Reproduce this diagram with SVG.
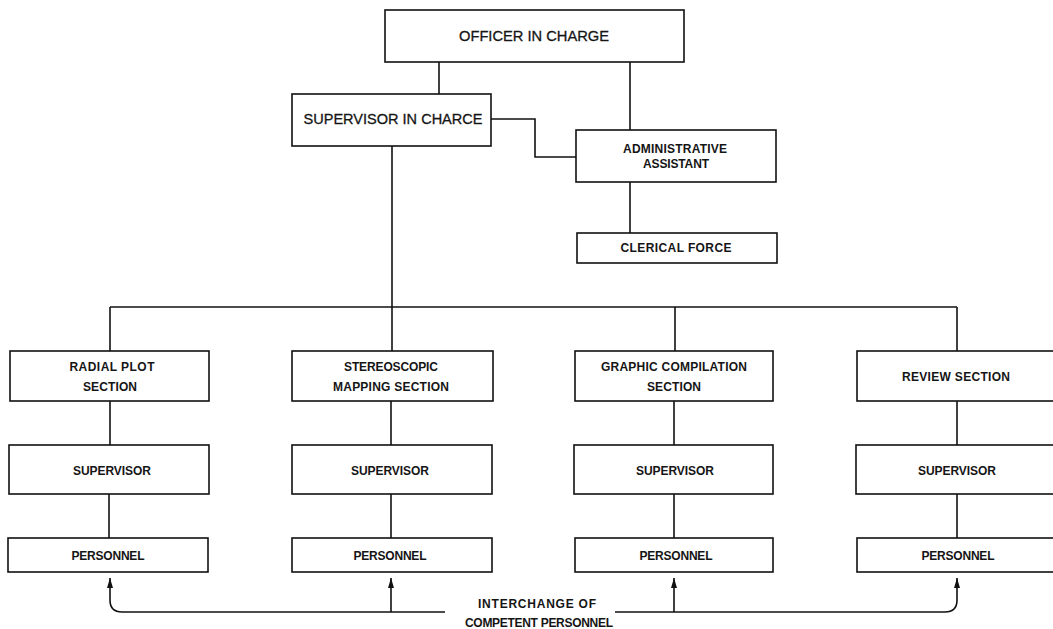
<svg xmlns="http://www.w3.org/2000/svg" width="1053" height="629" viewBox="0 0 1053 629">
<defs>
<style>
.box{fill:#fff;stroke:#111;stroke-width:1.6}
.ln{fill:none;stroke:#111;stroke-width:1.6}
.t{font-family:"Liberation Sans",Arial,sans-serif;font-size:12px;font-weight:bold;fill:#151515;text-anchor:middle}
.tl{font-family:"Liberation Sans",Arial,sans-serif;font-size:15px;font-weight:normal;fill:#151515;text-anchor:middle;stroke:#151515;stroke-width:0.3}
</style>
<marker id="ah" markerUnits="userSpaceOnUse" markerWidth="10" markerHeight="6" viewBox="0 0 10 6" refX="10" refY="3" orient="auto">
<path d="M0,0 L10,3 L0,6 Z" fill="#111"/>
</marker>
</defs>
<rect width="1053" height="629" fill="#fff"/>
<g id="connectors">
<path class="ln" d="M439,62 V94"/>
<path class="ln" d="M630,62 V130"/>
<path class="ln" d="M491,119 H535 V157 H576"/>
<path class="ln" d="M630,182 V233"/>
<path class="ln" d="M392,146 V351"/>
<path class="ln" d="M110,307 H957"/>
<path class="ln" d="M110,307 V351"/>
<path class="ln" d="M675,307 V351"/>
<path class="ln" d="M957,307 V351"/>
<path class="ln" d="M110,401 V445"/>
<path class="ln" d="M109,494 V538"/>
<path class="ln" d="M391,401 V445"/>
<path class="ln" d="M391,494 V538"/>
<path class="ln" d="M674,401 V445"/>
<path class="ln" d="M674,494 V538"/>
<path class="ln" d="M957,401 V445"/>
<path class="ln" d="M957,494 V538"/>
<path class="ln" d="M445,612 H122 Q110,612 110,600 V578" marker-end="url(#ah)"/>
<path class="ln" d="M391,612 V578" marker-end="url(#ah)"/>
<path class="ln" d="M615,612 H945 Q957,612 957,600 V578" marker-end="url(#ah)"/>
<path class="ln" d="M674,612 V578" marker-end="url(#ah)"/>
</g>
<g id="officer">
<rect class="box" x="385" y="10" width="299" height="52"/>
<text class="tl" x="534" y="41.4" textLength="150" lengthAdjust="spacingAndGlyphs">OFFICER IN CHARGE</text>
</g>
<g id="supervisor-in-charge">
<rect class="box" x="292" y="94" width="199" height="52"/>
<text class="tl" x="393" y="124.4" textLength="179" lengthAdjust="spacingAndGlyphs">SUPERVISOR IN CHARCE</text>
</g>
<g id="admin">
<rect class="box" x="576" y="130" width="200" height="52"/>
<text class="t" x="675" y="153.3" textLength="104">ADMINISTRATIVE</text>
<text class="t" x="676" y="168.3" textLength="66">ASSISTANT</text>
</g>
<g id="clerical">
<rect class="box" x="577" y="233" width="200" height="30"/>
<text class="t" x="676" y="252.3" textLength="111">CLERICAL FORCE</text>
</g>
<g id="radial">
<rect class="box" x="10" y="351" width="199" height="50"/>
<text class="t" x="112" y="371.3" textLength="85">RADIAL PLOT</text>
<text class="t" x="110" y="391.3" textLength="54">SECTION</text>
</g>
<g id="stereo">
<rect class="box" x="292" y="351" width="201" height="50"/>
<text class="t" x="391" y="371.3" textLength="94">STEREOSCOPIC</text>
<text class="t" x="391" y="391.3" textLength="116">MAPPING SECTION</text>
</g>
<g id="graphic">
<rect class="box" x="575" y="351" width="198" height="50"/>
<text class="t" x="674" y="371.3" textLength="146">GRAPHIC COMPILATION</text>
<text class="t" x="674" y="391.3" textLength="54">SECTION</text>
</g>
<g id="review">
<rect class="box" x="857" y="351" width="210" height="50"/>
<text class="t" x="956" y="381.3" textLength="108">REVIEW SECTION</text>
</g>
<g id="sup-radial">
<rect class="box" x="9" y="445" width="200" height="49"/>
<text class="t" x="112" y="475" textLength="78">SUPERVISOR</text>
</g>
<g id="sup-stereo">
<rect class="box" x="292" y="445" width="200" height="49"/>
<text class="t" x="390" y="475" textLength="78">SUPERVISOR</text>
</g>
<g id="sup-graphic">
<rect class="box" x="574" y="445" width="199" height="49"/>
<text class="t" x="675" y="475" textLength="78">SUPERVISOR</text>
</g>
<g id="sup-review">
<rect class="box" x="856" y="445" width="210" height="49"/>
<text class="t" x="957" y="475" textLength="78">SUPERVISOR</text>
</g>
<g id="pers-radial">
<rect class="box" x="8" y="538" width="200" height="34"/>
<text class="t" x="108" y="560" textLength="73">PERSONNEL</text>
</g>
<g id="pers-stereo">
<rect class="box" x="292" y="538" width="200" height="34"/>
<text class="t" x="390" y="560" textLength="73">PERSONNEL</text>
</g>
<g id="pers-graphic">
<rect class="box" x="575" y="538" width="198" height="34"/>
<text class="t" x="676" y="560" textLength="73">PERSONNEL</text>
</g>
<g id="pers-review">
<rect class="box" x="857" y="538" width="210" height="34"/>
<text class="t" x="958" y="560" textLength="73">PERSONNEL</text>
</g>
<g id="interchange-label">
<text class="t" x="537" y="608.3" textLength="118">INTERCHANGE OF</text>
<text class="t" x="539" y="627.3" textLength="148">COMPETENT PERSONNEL</text>
</g>
</svg>
